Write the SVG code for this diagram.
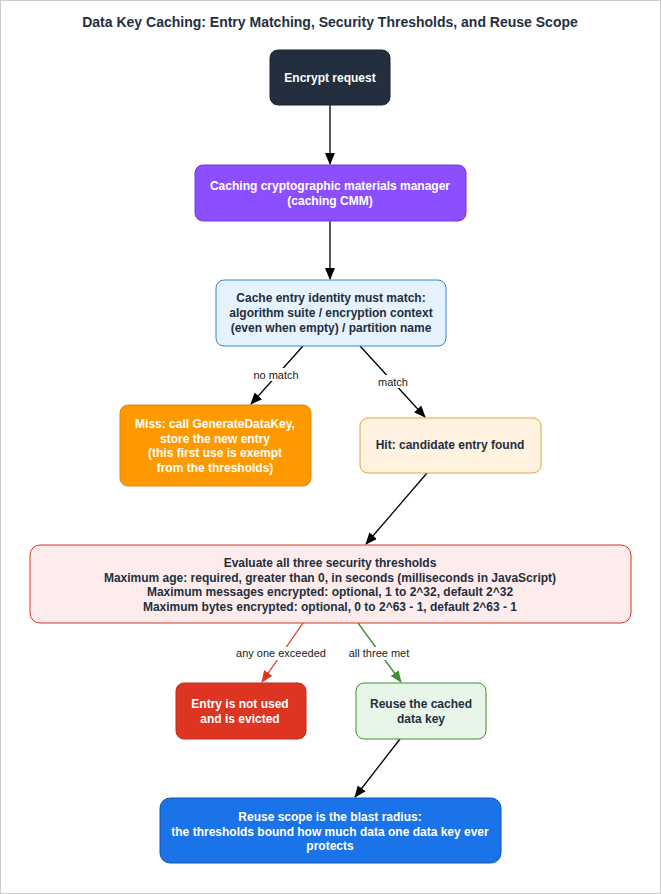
<svg xmlns="http://www.w3.org/2000/svg" width="661" height="894" viewBox="0 0 661 894">
<style>
text{font-family:"Liberation Sans",Arial,Helvetica,sans-serif}
.t{font-size:12px;font-weight:bold;text-anchor:middle;fill:#232f3e}
.w{fill:#ffffff}
.lbl{font-size:11px;text-anchor:middle;fill:#1a1a1a}
.title{font-size:14px;font-weight:bold;text-anchor:middle;fill:#232f3e}
.e{fill:none;stroke-width:1.3}
</style>
<defs>
<marker id="ak" markerWidth="12" markerHeight="10" refX="11" refY="5" orient="auto" markerUnits="userSpaceOnUse"><path d="M0,0 L12,5 L0,10 Z" fill="#000000"/></marker>
<marker id="ar" markerWidth="12" markerHeight="10" refX="11" refY="5" orient="auto" markerUnits="userSpaceOnUse"><path d="M0,0 L12,5 L0,10 Z" fill="#dd3522"/></marker>
<marker id="ag" markerWidth="12" markerHeight="10" refX="11" refY="5" orient="auto" markerUnits="userSpaceOnUse"><path d="M0,0 L12,5 L0,10 Z" fill="#3f8f2f"/></marker>
</defs>
<rect x="0.5" y="0.5" width="660" height="893" fill="#ffffff" stroke="#cccccc"/>
<text class="title" x="330" y="27">Data Key Caching: Entry Matching, Security Thresholds, and Reuse Scope</text>

<g id="edges">
<line class="e" x1="330" y1="105" x2="330" y2="164" stroke="#000" marker-end="url(#ak)"/>
<line class="e" x1="330" y1="221" x2="330" y2="279" stroke="#000" marker-end="url(#ak)"/>
<line class="e" x1="303" y1="346" x2="251" y2="404" stroke="#000" marker-end="url(#ak)"/>
<line class="e" x1="360" y1="346" x2="425" y2="417" stroke="#000" marker-end="url(#ak)"/>
<line class="e" x1="427" y1="473" x2="366" y2="544" stroke="#000" marker-end="url(#ak)"/>
<line class="e" x1="303" y1="623" x2="262" y2="682" stroke="#dd3522" marker-end="url(#ar)"/>
<line class="e" x1="358" y1="623" x2="401" y2="682" stroke="#3f8f2f" marker-end="url(#ag)"/>
<line class="e" x1="400" y1="739" x2="355" y2="797" stroke="#000" marker-end="url(#ak)"/>
<rect x="253" y="368" width="46" height="13" fill="#fff"/>
<text class="lbl" x="276" y="379">no match</text>
<rect x="376" y="375" width="34" height="13" fill="#fff"/>
<text class="lbl" x="393" y="386">match</text>
<rect x="235" y="647" width="92" height="13" fill="#fff"/>
<text class="lbl" x="281" y="657">any one exceeded</text>
<rect x="348" y="647" width="62" height="13" fill="#fff"/>
<text class="lbl" x="379" y="657">all three met</text>
</g>

<g id="encrypt-request">
<rect x="270" y="50" width="120" height="55" rx="8" fill="#232f3e" stroke="#1a232f"/>
<text class="t w" x="330" y="82">Encrypt request</text>
</g>
<g id="caching-cmm">
<rect x="195" y="165" width="271" height="56" rx="8" fill="#8c4fff" stroke="#7438d8"/>
<text class="t w" x="330" y="190">Caching cryptographic materials manager</text>
<text class="t w" x="330" y="205">(caching CMM)</text>
</g>
<g id="cache-entry">
<rect x="216" y="280" width="230" height="66" rx="8" fill="#e6f2fd" stroke="#2e86de"/>
<text class="t" x="331" y="302">Cache entry identity must match:</text>
<text class="t" x="331" y="317">algorithm suite / encryption context</text>
<text class="t" x="331" y="332">(even when empty) / partition name</text>
</g>
<g id="miss">
<rect x="120" y="405" width="191" height="81" rx="8" fill="#ff9900" stroke="#e08a10"/>
<text class="t w" x="215" y="428">Miss: call GenerateDataKey,</text>
<text class="t w" x="215" y="442.5">store the new entry</text>
<text class="t w" x="215" y="457">(this first use is exempt</text>
<text class="t w" x="215" y="471.5">from the thresholds)</text>
</g>
<g id="hit">
<rect x="360" y="418" width="181" height="55" rx="8" fill="#fff2e0" stroke="#e3a447"/>
<text class="t" x="450" y="449">Hit: candidate entry found</text>
</g>
<g id="evaluate">
<rect x="30" y="545" width="601" height="78" rx="10" fill="#fdeceb" stroke="#dd3522"/>
<text class="t" x="330" y="567">Evaluate all three security thresholds</text>
<text class="t" x="330" y="581.5">Maximum age: required, greater than 0, in seconds (milliseconds in JavaScript)</text>
<text class="t" x="330" y="596">Maximum messages encrypted: optional, 1 to 2^32, default 2^32</text>
<text class="t" x="330" y="610.5">Maximum bytes encrypted: optional, 0 to 2^63 - 1, default 2^63 - 1</text>
</g>
<g id="evicted">
<rect x="176" y="683" width="130" height="56" rx="8" fill="#dd3522" stroke="#c02a1a"/>
<text class="t w" x="240" y="708">Entry is not used</text>
<text class="t w" x="240" y="723">and is evicted</text>
</g>
<g id="reuse">
<rect x="356" y="683" width="130" height="56" rx="8" fill="#e8f5e9" stroke="#3f8f2f"/>
<text class="t" x="421" y="708">Reuse the cached</text>
<text class="t" x="421" y="723">data key</text>
</g>
<g id="blast-radius">
<rect x="160" y="798" width="341" height="65" rx="10" fill="#1a73e8" stroke="#1558b0"/>
<text class="t w" x="330" y="821">Reuse scope is the blast radius:</text>
<text class="t w" x="330" y="835.5">the thresholds bound how much data one data key ever</text>
<text class="t w" x="330" y="850">protects</text>
</g>
</svg>
